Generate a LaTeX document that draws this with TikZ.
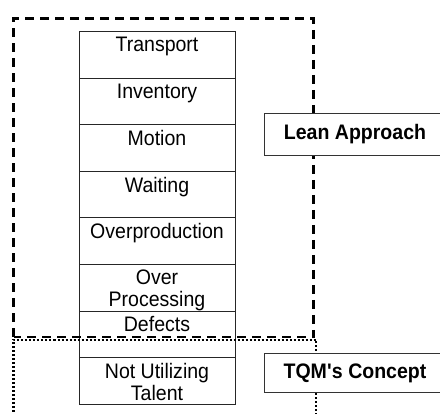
\documentclass[tikz,border=0pt]{standalone}
\usepackage{fontspec}
\setmainfont{Liberation Sans}[FakeStretch=0.93]
\usetikzlibrary{calc}

\tikzset{
  rowbox/.style={draw=black!85,line width=0.9pt,minimum width=156pt,minimum height=46.6pt,inner sep=0pt,outer sep=0pt},
  rowtext/.style={anchor=north,align=center,inner sep=0pt,font=\fontsize{21}{22}\selectfont},
  sidebox/.style={draw=black!80,fill=white,line width=1pt,minimum width=182pt,inner sep=0pt,outer sep=0pt,font=\fontsize{21}{24}\selectfont\bfseries},
  leanline/.style={line width=2.2pt,dash pattern=on 9pt off 6pt},
  tqmline/.style={line width=2.2pt,dash pattern=on 2pt off 2pt}
}

\begin{document}
\begin{tikzpicture}[x=1pt,y=-1pt]
\useasboundingbox (0,0) rectangle (440,414);
\clip (0,0) rectangle (440,414);
% the wastes
\foreach \w [count=\i] in {Transport,Inventory,Motion,Waiting,Overproduction,{Over\\Processing},Defects,{Not Utilizing\\Talent}}{
  \node[rowbox] (w\i) at (157,{31.5+46.6*(\i-0.5)}) {};
  \node[rowtext] (t\i) at ([yshift=-5.5pt]w\i.north) {\w};
}
% groups
\draw[leanline] (13.5,337) -- (13.5,18.5) -- (313.5,18.5) -- (313.5,337) -- cycle;
\draw[tqmline] (13.5,420) -- (13.5,340) -- (316,340) -- (316,420);
\node[sidebox,minimum height=42pt] (lean) at (355,134.3) {\raisebox{1.5pt}{Lean Approach}};
\node[sidebox,minimum height=39pt] (tqm) at (355,373.5) {\raisebox{1pt}{TQM\textquotesingle s Concept}};
\end{tikzpicture}
\end{document}
